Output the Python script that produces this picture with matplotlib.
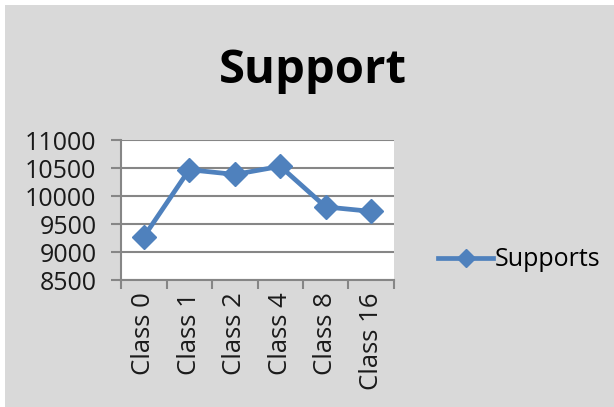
import matplotlib
matplotlib.use("Agg")
import matplotlib.pyplot as plt
from matplotlib.patches import Rectangle

categories = ["Class 0", "Class 1", "Class 2", "Class 4", "Class 8", "Class 16"]
supports = [9270, 10470, 10385, 10530, 9805, 9725]
y_ticks = [8500, 9000, 9500, 10000, 10500, 11000]
title = "Support"
series_name = "Supports"

plt.rcParams['font.family'] = ['Open Sans', 'DejaVu Sans']

W, H = 614, 407
fig = plt.figure(figsize=(W / 100, H / 100), dpi=100)
fig.patch.set_facecolor("white")
fig.patches.append(Rectangle((5 / W, 0), 1, 1 - 5 / H, transform=fig.transFigure,
                             facecolor="#D9D9D9", edgecolor="none", zorder=-10))

left, right, top, bottom = 121, 394, 140, 280
ax = fig.add_axes([left / W, 1 - bottom / H, (right - left) / W, (bottom - top) / H])
ax.set_zorder(1)
ax.set_facecolor("white")

x = list(range(len(categories)))
line, = ax.plot(x, supports, color="#4F81BD", linewidth=3.4, marker="D",
                markersize=12, markeredgecolor="#4F81BD", zorder=3, clip_on=False)

ax.set_xlim(-0.5, len(categories) - 0.5)
ax.set_ylim(y_ticks[0], y_ticks[-1])
ax.set_yticks(y_ticks)
ax.set_yticklabels([str(v) for v in y_ticks], fontsize=18, color="#1a1a1a")
ax.yaxis.grid(True, color="#868686", linewidth=1.5)
ax.set_axisbelow(True)

ax.set_xticks([i + 0.5 for i in range(-1, len(categories))], minor=False)
ax.set_xticklabels([""] * (len(categories) + 1))
ax.set_xticks(x, minor=True)
ax.set_xticklabels(categories, minor=True, rotation=90, fontsize=18.5, color="#1a1a1a")
ax.tick_params(axis="x", which="major", length=6.5, width=1.5, color="#868686")
ax.tick_params(axis="x", which="minor", length=0, pad=9)
ax.tick_params(axis="y", length=7.2, width=1.5, color="#868686", pad=10.5)

for s in ["top", "right"]:
    ax.spines[s].set_visible(False)
for s in ["left", "bottom"]:
    ax.spines[s].set_color("#868686")
    ax.spines[s].set_linewidth(1.5)

fig.text(313 / W, 1 - 70 / H, title, ha="center", va="center", fontsize=34,
         fontweight="bold")

fig.legend([line], [series_name], loc="center left",
           bbox_to_anchor=(428 / W, 1 - 260 / H), frameon=False, fontsize=18,
           handlelength=2.2, handletextpad=0.05, borderaxespad=0,
           markerscale=0.8)

fig.savefig("out.png", dpi=100, facecolor=fig.get_facecolor())
